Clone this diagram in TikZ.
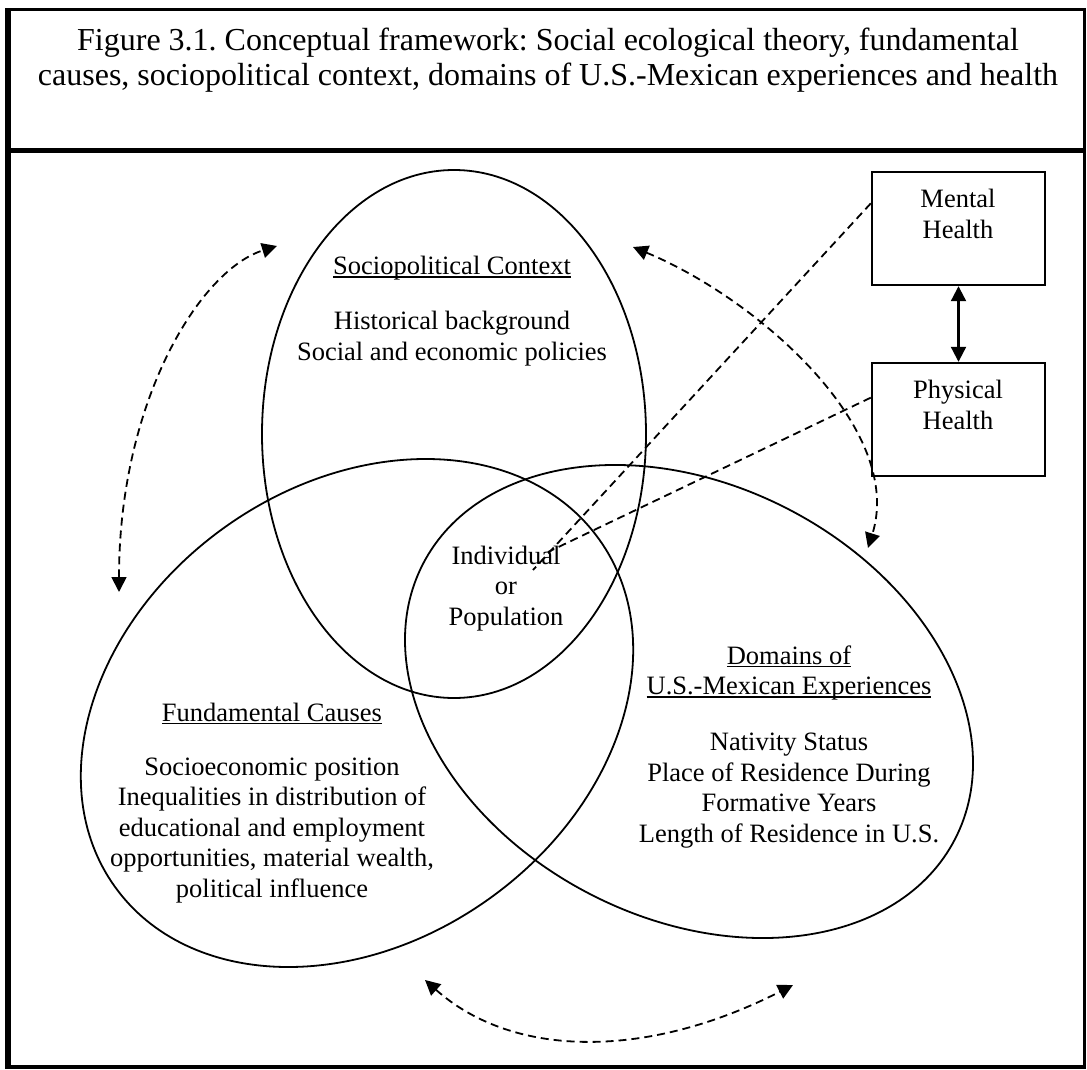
\documentclass[tikz,border=0pt]{standalone}
\usepackage{fontspec}
\setmainfont{Liberation Serif}
\usetikzlibrary{shapes.geometric,arrows.meta,calc}
\frenchspacing
\newcommand\myul[1]{\setbox0\hbox{#1}\rlap{\rule[-3.2pt]{\wd0}{1.6pt}}\box0}
\begin{document}
\begin{tikzpicture}[x=1pt,y=-1pt,
  ovalnode/.style={draw, ellipse, line width=1.8pt, inner sep=0pt, outer sep=0pt},
  hlthbox/.style={draw, rectangle, line width=2.4pt, inner sep=0pt, minimum width=173pt, minimum height=113pt},
  bodytext/.style={font=\fontsize{26.5}{30.5}\selectfont, align=center, inner sep=0pt, anchor=base},
  ttltext/.style={font=\fontsize{32}{35.5}\selectfont, align=center, inner sep=0pt, anchor=base},
  dashline/.style={line width=1.8pt, dash pattern=on 8pt off 5pt},
  dbl/.style={{Triangle[length=15pt,width=15pt]}-{Triangle[length=15pt,width=15pt]}}
]
\useasboundingbox (0,0) rectangle (1087,1070);
% frame
\draw[line width=5.5pt] (8,8.5) -- (8,1068.5);
\draw[line width=3pt] (5,10) -- (1086,10);
\draw[line width=2.5pt] (1084.5,10) -- (1084.5,1068);
\draw[line width=4pt] (5,1066.5) -- (1086,1066.5);
\draw[line width=4.5pt] (5,150.5) -- (1086,150.5);
% title
\node[ttltext] (title) at (548,86) {Figure 3.1. Conceptual framework: Social ecological theory, fundamental\\causes, sociopolitical context, domains of U.S.-Mexican experiences and health};
% ellipses
\node[ovalnode, minimum width=384pt, minimum height=528pt] (S) at (454,434) {};
\node[ovalnode, minimum width=596pt, minimum height=456pt, rotate=35.7] (F) at (357,713) {};
\node[ovalnode, minimum width=599pt, minimum height=433pt, rotate=-27.4] (D) at (689,701.5) {};
% health boxes
\node[hlthbox] (M) at (958.5,228.5) {};
\node[hlthbox] (P) at (958.5,419.5) {};
\node[bodytext] (Mt) at (958,238) {Mental\\Health};
\node[bodytext] (Pt) at (958,429) {Physical\\Health};
\draw[dbl, line width=2.2pt] (M.south) -- (P.north);
% texts
\node[bodytext] (St) at (452,360) {\myul{Sociopolitical Context}\\[24.5pt]Historical background\\Social and economic policies};
\node[bodytext] (I) at (506,625) {Individual\\or\\Population};
\node[bodytext] (Ft) at (272,897) {\myul{Fundamental Causes}\\[23.5pt]Socioeconomic position\\Inequalities in distribution of\\educational and employment\\opportunities, material wealth,\\political influence};
\node[bodytext] (Dt) at (789,842) {\myul{Domains of}\\\myul{U.S.-Mexican Experiences}\\[25.5pt]Nativity Status\\Place of Residence During\\Formative Years\\Length of Residence in U.S.};
% dashed connectors to individual
\coordinate (e1) at (533,570);
\coordinate (e2) at (548,552);
\draw[dashline] (M.164) -- (e1);
\draw[dashline] (P.166) -- (e2);
% curved double arrows
\coordinate (a1) at (277,246);
\coordinate (a2) at (119,592);
\draw[dashline, dbl] (a2) .. controls (119,401) and (200,270) .. (a1);
\coordinate (b1) at (633,247);
\coordinate (b2) at (868,548);
\draw[dashline, dbl] (b1) .. controls (760,300) and (905,430) .. (b2);
\coordinate (c1) at (425,980);
\coordinate (c2) at (793,985);
\draw[dashline, dbl] (c1) .. controls (515,1060) and (650,1058) .. (c2);
\end{tikzpicture}
\end{document}
